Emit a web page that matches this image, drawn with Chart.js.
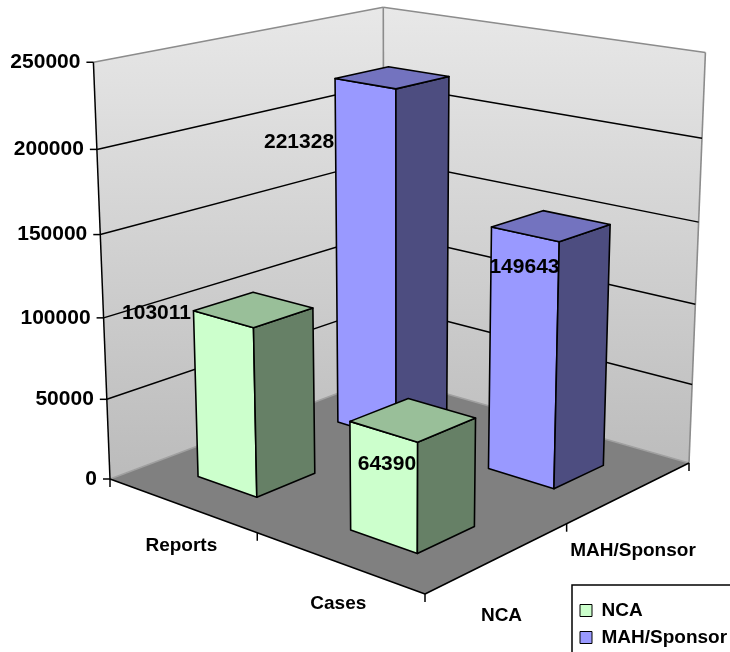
<!DOCTYPE html>
<html>
<head>
<meta charset="utf-8">
<title>Reports and cases by sender type</title>
<style>
  html, body { margin: 0; padding: 0; background: #ffffff; }
  canvas { display: block; }
</style>
<script src="https://cdn.jsdelivr.net/npm/chart.js@4/dist/chart.umd.js"></script>
</head>
<body>
<canvas id="chart" width="730" height="652"></canvas>
<script>
// Chart data
const categories = ['Reports', 'Cases'];
const ncaValues = [103011, 64390];
const mahValues = [221328, 149643];
const valueTicks = { min: 0, max: 250000, step: 50000 };

// Box corners on screen: floor, then top of the walls
const floorCorners = { left: [110, 479], front: [425, 594], right: [689, 463], back: [384, 376] };
const topCorners = { left: [93, 61], back: [384, 7], right: [705, 54] };

// Bar footprint as a share of the floor (Excel-style 150% gap)
const barDepth = 0.2;

// Value label offsets from the bar's upper left corner, per series then category
const labelOffsets = [
  [[-37, 2], [37, 43]],
  [[-36, 64], [33, 40]]
];
const categoryLabelOffset = [0, 41];
const seriesLabelOffset = [3, 58];

const NUMBER_FONT = 'bold 21px "Liberation Sans", Arial, sans-serif';
const TEXT_FONT = 'bold 19px "Liberation Sans", Arial, sans-serif';

// Projective mapping: u runs left->front, v runs front->right, t is height
function buildProjection() {
  const [x0, y0] = floorCorners.left, [x1, y1] = floorCorners.front,
        [x2, y2] = floorCorners.right, [x3, y3] = floorCorners.back;
  const dx1 = x1 - x2, dx2 = x3 - x2, sx = x0 - x1 + x2 - x3;
  const dy1 = y1 - y2, dy2 = y3 - y2, sy = y0 - y1 + y2 - y3;
  const det = dx1 * dy2 - dx2 * dy1;
  const g = (sx * dy2 - dx2 * sy) / det;
  const h = (dx1 * sy - sx * dy1) / det;
  const a = x1 - x0 + g * x1, b = x3 - x0 + h * x3;
  const d = y1 - y0 + g * y1, e = y3 - y0 + h * y3;
  const ax = (u, v) => a * u + b * v + x0;
  const ay = (u, v) => d * u + e * v + y0;
  const w = (u, v) => g * u + h * v + 1;

  // Height terms come from the three visible wall-top corners
  const [XL] = topCorners.left, [XR] = topCorners.right;
  const j = (ax(0, 0) - ax(1, 1) + XR * w(1, 1) - XL * w(0, 0)) / (XL - XR);
  const anchors = [[0, 0, topCorners.left], [0, 1, topCorners.back], [1, 1, topCorners.right]];
  let cx = 0, cy = 0;
  anchors.forEach(([u, v, p]) => {
    cx += p[0] * (w(u, v) + j) - ax(u, v);
    cy += p[1] * (w(u, v) + j) - ay(u, v);
  });
  cx /= 3; cy /= 3;
  return (u, v, t) => {
    const den = w(u, v) + j * t;
    return [(ax(u, v) + cx * t) / den, (ay(u, v) + cy * t) / den];
  };
}
const project = buildProjection();

function polygon(ctx, pts) {
  ctx.beginPath();
  pts.forEach((p, i) => (i ? ctx.lineTo(p[0], p[1]) : ctx.moveTo(p[0], p[1])));
  ctx.closePath();
}

function line(ctx, a, b) {
  ctx.beginPath();
  ctx.moveTo(a[0], a[1]);
  ctx.lineTo(b[0], b[1]);
  ctx.stroke();
}

function shade(hex, factor) {
  const n = parseInt(hex.slice(1), 16);
  const c = [n >> 16, (n >> 8) & 255, n & 255].map(v => Math.round(v * factor));
  return `rgb(${c[0]},${c[1]},${c[2]})`;
}

// Share of the value axis covered by a value
function heightOf(yScale, value) {
  return yScale.getDecimalForPixel(yScale.getPixelForValue(value));
}

// Bar footprint on the floor, centred on its category and series slots
function footprint(chart, dataIndex, datasetIndex) {
  const xScale = chart.scales.x;
  const u = xScale.getDecimalForPixel(xScale.getPixelForValue(dataIndex));
  const v = (datasetIndex + 0.5) / chart.data.datasets.length;
  return { u0: u - barDepth / 2, u1: u + barDepth / 2, v0: v - barDepth / 2, v1: v + barDepth / 2 };
}

// Bar controller that paints each element as a cuboid standing on the floor
class Bar3DController extends Chart.BarController {
  draw() {
    const ctx = this.chart.ctx;
    const yScale = this.chart.scales.y;
    const ds = this.getDataset();
    const base = ds.backgroundColor;
    this.getMeta().data.forEach((el, i) => {
      const t = heightOf(yScale, this.getParsed(i).y);
      const { u0, u1, v0, v1 } = footprint(this.chart, i, this.index);
      const p = (u, v, h) => project(u, v, h);
      ctx.save();
      ctx.strokeStyle = ds.borderColor;
      ctx.lineWidth = 1.6;
      ctx.lineJoin = 'round';
      ctx.fillStyle = base;
      polygon(ctx, [p(u0, v0, 0), p(u1, v0, 0), p(u1, v0, t), p(u0, v0, t)]);
      ctx.fill(); ctx.stroke();
      ctx.fillStyle = shade(base, 0.5);
      polygon(ctx, [p(u1, v0, 0), p(u1, v1, 0), p(u1, v1, t), p(u1, v0, t)]);
      ctx.fill(); ctx.stroke();
      ctx.fillStyle = shade(base, 0.75);
      polygon(ctx, [p(u0, v0, t), p(u1, v0, t), p(u1, v1, t), p(u0, v1, t)]);
      ctx.fill(); ctx.stroke();
      ctx.restore();
    });
  }
}
Bar3DController.id = 'bar3d';
Bar3DController.defaults = Chart.BarController.defaults;
Chart.register(Bar3DController);

// Walls, floor, gridlines and axis furniture behind the bars
const stagePlugin = {
  id: 'stage',
  beforeDatasetsDraw(chart) {
    const ctx = chart.ctx;
    const yScale = chart.scales.y;
    ctx.save();
    const wall = ctx.createLinearGradient(0, 7, 0, 470);
    wall.addColorStop(0, '#e8e8e8');
    wall.addColorStop(1, '#bcbcbc');
    ctx.fillStyle = wall;
    polygon(ctx, [project(0, 0, 0), project(0, 0, 1), project(0, 1, 1), project(0, 1, 0)]);
    ctx.fill();
    polygon(ctx, [project(0, 1, 0), project(0, 1, 1), project(1, 1, 1), project(1, 1, 0)]);
    ctx.fill();
    ctx.fillStyle = '#808080';
    polygon(ctx, [project(0, 0, 0), project(1, 0, 0), project(1, 1, 0), project(0, 1, 0)]);
    ctx.fill();

    // Grey wall rims
    ctx.strokeStyle = '#8c8c8c';
    ctx.lineWidth = 1.6;
    line(ctx, project(0, 0, 1), project(0, 1, 1));
    line(ctx, project(0, 1, 1), project(1, 1, 1));
    line(ctx, project(0, 1, 0), project(0, 1, 1));
    line(ctx, project(1, 1, 0), project(1, 1, 1));
    ctx.strokeStyle = '#a0a0a0';
    line(ctx, project(0, 0, 0), project(0, 1, 0));
    line(ctx, project(0, 1, 0), project(1, 1, 0));

    // Gridlines run across both walls at each tick of the value axis
    ctx.strokeStyle = '#000000';
    ctx.lineWidth = 1.5;
    ctx.font = NUMBER_FONT;
    ctx.fillStyle = '#000000';
    ctx.textAlign = 'right';
    ctx.textBaseline = 'middle';
    yScale.ticks.forEach(tick => {
      const t = heightOf(yScale, tick.value);
      const a = project(0, 0, t);
      if (tick.value > yScale.min && tick.value < yScale.max) {
        const b = project(0, 1, t);
        line(ctx, a, b);
        line(ctx, b, project(1, 1, t));
      }
      line(ctx, [a[0] - 7, a[1]], a);
      ctx.fillText(tick.label, a[0] - 13, a[1]);
    });

    // Value axis and the two front floor edges, each with ticks
    line(ctx, project(0, 0, 1), project(0, 0, 0));
    line(ctx, project(0, 0, 0), project(1, 0, 0));
    line(ctx, project(1, 0, 0), project(1, 1, 0));
    [project(0, 0, 0), project(0.5, 0, 0), project(1, 0, 0), project(1, 0.5, 0), project(1, 1, 0)]
      .forEach(p => line(ctx, p, [p[0], p[1] + 8]));

    // Category names along the left floor edge, series names along the right one
    ctx.font = TEXT_FONT;
    ctx.textAlign = 'center';
    const xScale = chart.scales.x;
    categories.forEach((name, i) => {
      const u = xScale.getDecimalForPixel(xScale.getPixelForValue(i));
      const p = project(u, 0, 0);
      ctx.fillText(name, p[0] + categoryLabelOffset[0], p[1] + categoryLabelOffset[1]);
    });
    chart.data.datasets.forEach((ds, i) => {
      const p = project(1, (i + 0.5) / chart.data.datasets.length, 0);
      ctx.fillText(ds.label, p[0] + seriesLabelOffset[0], p[1] + seriesLabelOffset[1]);
    });
    ctx.restore();
  },
  // Value labels go above every bar face
  afterDatasetsDraw(chart) {
    const ctx = chart.ctx;
    const yScale = chart.scales.y;
    ctx.save();
    ctx.font = NUMBER_FONT;
    ctx.fillStyle = '#000000';
    ctx.textAlign = 'center';
    ctx.textBaseline = 'middle';
    chart.data.datasets.forEach((ds, di) => {
      ds.data.forEach((value, i) => {
        const { u0, v0 } = footprint(chart, i, di);
        const p = project(u0, v0, heightOf(yScale, value));
        const off = labelOffsets[di][i];
        ctx.fillText(String(value), p[0] + off[0], p[1] + off[1]);
      });
    });
    ctx.restore();
  },
  // Move the legend into the lower right corner, then frame it
  afterLayout(chart) {
    const legend = chart.legend;
    legend.left = 572;
    legend.top = 585;
    legend.bottom = 655;
  },
  afterDraw(chart) {
    const ctx = chart.ctx;
    ctx.save();
    ctx.strokeStyle = '#000000';
    ctx.lineWidth = 1.5;
    ctx.beginPath();
    ctx.moveTo(730, 585);
    ctx.lineTo(572, 585);
    ctx.lineTo(572, 652);
    ctx.stroke();
    ctx.restore();
  }
};

new Chart(document.getElementById('chart'), {
  type: 'bar3d',
  data: {
    labels: categories,
    datasets: [
      { label: 'NCA', data: ncaValues, backgroundColor: '#ccffcc', borderColor: '#000000', borderWidth: 1, clip: false },
      { label: 'MAH/Sponsor', data: mahValues, backgroundColor: '#9999ff', borderColor: '#000000', borderWidth: 1, clip: false }
    ]
  },
  plugins: [stagePlugin],
  options: {
    responsive: false,
    animation: false,
    scales: {
      x: { type: 'category', offset: true, display: false },
      y: {
        type: 'linear',
        display: false,
        min: valueTicks.min,
        max: valueTicks.max,
        ticks: { stepSize: valueTicks.step, callback: v => String(v) }
      }
    },
    plugins: {
      tooltip: { enabled: false },
      legend: {
        display: true,
        position: 'right',
        align: 'end',
        labels: {
          boxWidth: 12,
          boxHeight: 12,
          padding: 8,
          color: '#000000',
          font: { family: '"Liberation Sans", Arial, sans-serif', size: 19, weight: 'bold', lineHeight: 1.35 }
        }
      }
    }
  }
});
</script>
</body>
</html>
